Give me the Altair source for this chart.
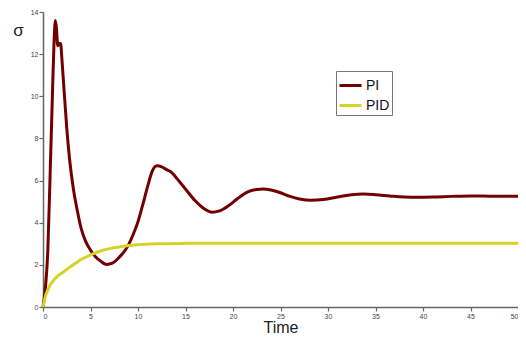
import altair as alt
import pandas as pd

pi_t = [0, 0.25, 0.5, 0.75, 1.0, 1.15, 1.3, 1.42, 1.55, 1.7, 1.85, 2.0, 2.2, 2.5, 2.8, 3.2, 3.6,
        4.0, 4.5, 5.0, 5.5, 6.0, 6.7, 7.3, 8.0, 8.5, 9.0, 9.5, 10.0, 10.5, 11.0, 11.5, 12.0,
        12.5, 13.0, 13.5, 14.0, 15.0, 16.0, 17.0, 17.8, 18.5, 19.5, 20.5, 21.5, 22.5, 23.2,
        24.0, 25.0, 26.0, 27.0, 28.2, 29.5, 31.0, 32.5, 33.7, 35.0, 36.5, 38.0, 39.5, 41,
        43, 45, 47, 50]
pi_v = [0, 0.9, 2.6, 6.3, 10.2, 12.4, 13.6, 13.2, 12.4, 12.5, 12.5, 11.7, 10.4, 8.5, 7.0, 5.6,
        4.6, 3.75, 3.1, 2.7, 2.4, 2.2, 2.02, 2.08, 2.35, 2.6, 2.95, 3.45, 4.05, 4.85, 5.7,
        6.45, 6.7, 6.65, 6.52, 6.4, 6.15, 5.6, 5.05, 4.65, 4.5, 4.55, 4.8, 5.15, 5.45, 5.58,
        5.6, 5.55, 5.42, 5.25, 5.13, 5.07, 5.1, 5.22, 5.33, 5.36, 5.33, 5.27, 5.22, 5.21,
        5.22, 5.25, 5.27, 5.26, 5.25]

pid_t = [0, 0.25, 0.5, 0.75, 1.0, 1.5, 2.0, 2.5, 3.0, 3.5, 4.0, 5.0, 6.0, 7.0, 8.0, 9.0,
         10.0, 12.0, 15.0, 20.0, 30.0, 40.0, 50.0]
pid_v = [0, 0.5, 0.8, 1.05, 1.2, 1.45, 1.62, 1.78, 1.95, 2.1, 2.25, 2.47, 2.65, 2.77, 2.85,
         2.92, 2.96, 3.0, 3.02, 3.03, 3.03, 3.03, 3.03]

series = ["PI", "PID"]
colors = ["#730000", "#d6d226"]

df = pd.concat([
    pd.DataFrame({"t": pi_t, "v": pi_v, "s": "PI", "o": range(len(pi_t))}),
    pd.DataFrame({"t": pid_t, "v": pid_v, "s": "PID", "o": range(len(pid_t))}),
])

font = "Liberation Sans"

chart = alt.Chart(df).mark_line(strokeWidth=3, interpolate="monotone").encode(
    x=alt.X("t:Q", scale=alt.Scale(domain=[0, 50], nice=False, zero=False),
            axis=alt.Axis(values=list(range(0, 51, 5)), title="Time",
                          titleFontSize=16, titleFont=font, titleFontWeight="normal",
                          titleColor="#222", titleY=25, titleBaseline="alphabetic")),
    y=alt.Y("v:Q", scale=alt.Scale(domain=[0, 14], nice=False),
            axis=alt.Axis(values=list(range(0, 15, 2)), title="σ", titleAngle=0,
                          titleFontSize=17, titleFont=font, titleFontWeight="normal",
                          titleColor="#222", titleX=-25, titleY=18,
                          titleAlign="center", titleBaseline="middle")),
    color=alt.Color("s:N", scale=alt.Scale(domain=series, range=colors),
                    legend=alt.Legend(title=None, orient="none", legendX=293, legendY=59,
                                      symbolType="M-1,0L1,0", symbolSize=484,
                                      symbolStrokeWidth=3, labelFontSize=14,
                                      labelFont=font, labelColor="#111",
                                      strokeColor="#777", fillColor="white",
                                      padding=2, rowPadding=-3, labelOffset=3)),
    order="o:Q",
).properties(
    width=475, height=295,
    autosize=alt.AutoSizeParams(type="none"),
    padding={"left": 35, "top": 4, "right": 0, "bottom": 28},
).configure_view(stroke=None).configure_axis(
    grid=False, domainColor="#666", domainWidth=1.5, tickColor="#666", tickSize=4,
    tickWidth=1.2, labelColor="#444", labelFontSize=7, labelFont=font, labelPadding=1,
)

chart.save("out.html", embed_options={"renderer": "svg", "actions": False})
